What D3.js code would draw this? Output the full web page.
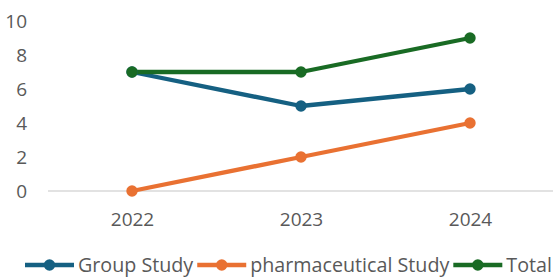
<!DOCTYPE html>
<html>
<head>
<meta charset="utf-8">
<script src="https://cdn.jsdelivr.net/npm/d3@7"></script>
<style>
  body { margin: 0; background: #fff; }
  text { font-family: "Open Sans", sans-serif; fill: #595959; }
</style>
</head>
<body>
<div id="chart"></div>
<script>
// data
var years = ["2022", "2023", "2024"];
var groupStudy = [7, 5, 6];
var pharmaStudy = [0, 2, 4];
var total = [7, 7, 9];
var yTicks = [0, 2, 4, 6, 8, 10];

var series = [
  { name: "Group Study", values: groupStudy, color: "#156082" },
  { name: "pharmaceutical Study", values: pharmaStudy, color: "#E97132" },
  { name: "Total", values: total, color: "#196B24" }
];

var width = 553, height = 277;
var fontSize = 19;

var svg = d3.select("#chart").append("svg")
  .attr("width", width)
  .attr("height", height);

var x = d3.scalePoint().domain(years).range([132, 470]);
var y = d3.scaleLinear().domain([0, 10]).range([191, 21]);

// baseline only, no gridlines
svg.append("line")
  .attr("x1", 48).attr("x2", width)
  .attr("y1", y(0)).attr("y2", y(0))
  .attr("stroke", "#d9d9d9").attr("stroke-width", 1.3);

// y tick labels
var yAxis = svg.append("g").attr("transform", "translate(27,0)")
  .call(d3.axisLeft(y).tickValues(yTicks).tickSize(0).tickPadding(0));
yAxis.select(".domain").remove();
yAxis.selectAll("text")
  .attr("font-size", fontSize).attr("fill", "#595959")
  .style("font-family", "Open Sans, sans-serif");

// x tick labels
var xAxis = svg.append("g").attr("transform", "translate(0,212)")
  .call(d3.axisBottom(x).tickSize(0).tickPadding(0));
xAxis.select(".domain").remove();
xAxis.selectAll("text")
  .attr("font-size", fontSize).attr("fill", "#595959")
  .style("font-family", "Open Sans, sans-serif");

var line = d3.line()
  .x(function(d, i) { return x(years[i]); })
  .y(function(d) { return y(d); });

// draw lines then markers
series.forEach(function(s) {
  svg.append("path")
    .datum(s.values)
    .attr("fill", "none")
    .attr("stroke", s.color)
    .attr("stroke-width", 4.3)
    .attr("stroke-linejoin", "round")
    .attr("d", line);
});
series.forEach(function(s) {
  svg.selectAll(null)
    .data(s.values)
    .enter().append("circle")
    .attr("cx", function(d, i) { return x(years[i]); })
    .attr("cy", function(d) { return y(d); })
    .attr("r", 5.7)
    .attr("fill", s.color);
});

// legend
var legend = svg.append("g").attr("transform", "translate(25,265)");
var lx = 0;
series.forEach(function(s) {
  var g = legend.append("g").attr("transform", "translate(" + lx + ",0)");
  g.append("line").attr("x1", 0).attr("x2", 49)
    .attr("stroke", s.color).attr("stroke-width", 4.3);
  g.append("circle").attr("cx", 24.5).attr("r", 5.7).attr("fill", s.color);
  var t = g.append("text").attr("x", 53).attr("dy", "0.35em")
    .attr("font-size", 19.7).text(s.name);
  lx += 53 + t.node().getComputedTextLength() + 4;
});
</script>
</body>
</html>
